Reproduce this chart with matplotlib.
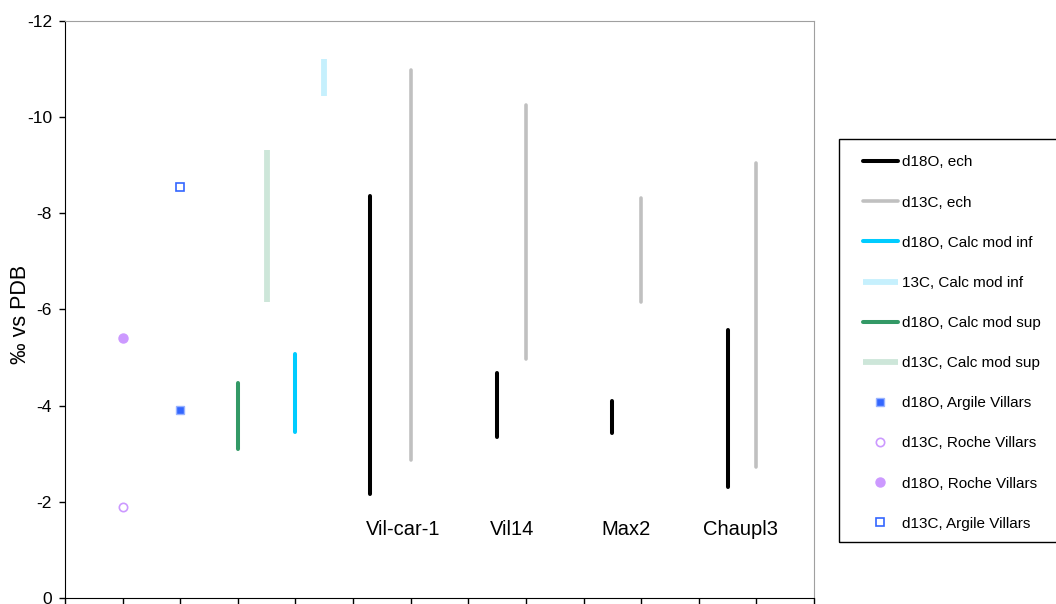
import numpy as np
import matplotlib
matplotlib.use('Agg')
import matplotlib.pyplot as plt
from matplotlib.patches import Rectangle

plt.rcParams['font.family'] = ['Liberation Sans', 'DejaVu Sans']
plt.rcParams['axes.unicode_minus'] = False

# samples: d18O and d13C ranges (min, max)
sample_names = ['Vil-car-1', 'Vil14', 'Max2', 'Chaupl3']
d18o_ech_x = [5.3, 7.5, 9.5, 11.5]
d18o_ech_lo = [-2.16, -3.35, -3.44, -2.30]
d18o_ech_hi = [-8.36, -4.68, -4.10, -5.57]
d13c_ech_x = [6.0, 8.0, 10.0, 12.0]
d13c_ech_lo = [-2.87, -4.98, -6.15, -2.73]
d13c_ech_hi = [-10.99, -10.25, -8.31, -9.05]
label_x = [5.87, 7.76, 9.74, 11.73]
label_y = -1.43

# calc mod inf / sup
d18o_inf_x, d18o_inf_lo, d18o_inf_hi = [4.0], [-3.46], [-5.07]
d13c_inf_x, d13c_inf_lo, d13c_inf_hi = [4.5], [-10.44], [-11.22]
d18o_sup_x, d18o_sup_lo, d18o_sup_hi = [3.0], [-3.09], [-4.48]
d13c_sup_x, d13c_sup_lo, d13c_sup_hi = [3.5], [-6.15], [-9.31]

# single values
argile_x = [2.0]
d18o_argile = [-3.91]
d13c_argile = [-8.54]
roche_x = [1.0]
d13c_roche = [-1.89]
d18o_roche = [-5.40]

fig = plt.figure(figsize=(10.56, 6.04), dpi=100)
ax = fig.add_axes([65/1056, 1-598/604, (814-65)/1056, (598-21)/604])


def ranges(xs, lo, hi, label, **kw):
    for i, (x, a, b) in enumerate(zip(xs, lo, hi)):
        ax.plot([x, x], [a, b], label=label if i == 0 else None, **kw)


ranges(d18o_ech_x, d18o_ech_lo, d18o_ech_hi, 'd18O, ech',
       color='black', lw=2.9, solid_capstyle='round')
ranges(d13c_ech_x, d13c_ech_lo, d13c_ech_hi, 'd13C, ech',
       color='#c0c0c0', lw=2.6, solid_capstyle='round')
ranges(d18o_inf_x, d18o_inf_lo, d18o_inf_hi, 'd18O, Calc mod inf',
       color='#00ccff', lw=2.9, solid_capstyle='round')
ranges(d13c_inf_x, d13c_inf_lo, d13c_inf_hi, '13C, Calc mod inf',
       color='#c6f0fd', lw=4.2, solid_capstyle='butt')
ranges(d18o_sup_x, d18o_sup_lo, d18o_sup_hi, 'd18O, Calc mod sup',
       color='#339966', lw=2.9, solid_capstyle='round')
ranges(d13c_sup_x, d13c_sup_lo, d13c_sup_hi, 'd13C, Calc mod sup',
       color='#cde6d9', lw=4.2, solid_capstyle='butt')

ax.plot(argile_x, d18o_argile, ls='none', marker='s', ms=5.5,
        mfc='#3366ff', mec='#99b3ff', mew=1, label='d18O, Argile Villars')
ax.plot(roche_x, d13c_roche, ls='none', marker='o', ms=6,
        mfc='white', mec='#cc99ff', mew=1.2, label='d13C, Roche Villars')
ax.plot(roche_x, d18o_roche, ls='none', marker='o', ms=6.5,
        mfc='#cc99ff', mec='#cc99ff', label='d18O, Roche Villars')
ax.plot(argile_x, d13c_argile, ls='none', marker='s', ms=5.5,
        mfc='white', mec='#3366ff', mew=1.2, label='d13C, Argile Villars')

for name, x in zip(sample_names, label_x):
    ax.text(x, label_y, name, ha='center', va='center', fontsize=14.5)

ax.set_xlim(0, 13)
ax.set_ylim(0, -12)
ax.set_xticks(np.arange(0, 14))
ax.set_xticklabels([])
ax.set_yticks(np.arange(0, -13, -2))
ax.set_yticklabels([str(v) for v in range(0, -13, -2)])
ax.tick_params(direction='out', length=4.3, width=1, labelsize=12.5,
               color='black', pad=5)
fig.text(20.5/1056, 1-314/604, '‰ vs PDB', rotation=90, fontsize=15.5,
         ha='center', va='center')

for s in ['top', 'right']:
    ax.spines[s].set_color('#a0a0a0')
for s in ['left', 'bottom']:
    ax.spines[s].set_color('black')

# legend box runs past the right edge of the picture
fig.patches.append(Rectangle((839/1056, 1-542/604), 0.3, (542-139)/604,
                             transform=fig.transFigure, fill=False,
                             edgecolor='black', lw=1))
fig.legend(loc='upper left', bbox_to_anchor=(863/1056, 1-155.5/604),
           fontsize=11, frameon=False,
           handlelength=2.29, handletextpad=0.24, labelspacing=1.71,
           borderpad=0, borderaxespad=0)

fig.savefig('out.png', dpi=100)
